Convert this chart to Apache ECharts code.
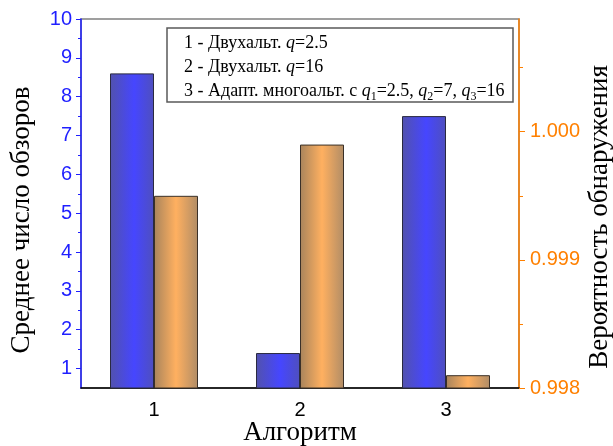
<!DOCTYPE html>
<html>
<head>
<meta charset="utf-8">
<script src="https://cdn.jsdelivr.net/npm/echarts@6/dist/echarts.min.js"></script>
<style>
  html, body { margin: 0; padding: 0; background: #fff; }
  #chart { width: 613px; height: 446px; }
</style>
</head>
<body>
<div id="chart"></div>
<script>
// данные
const categories = ['1', '2', '3'];
const avgScans = [8.6, 1.4, 7.5];            // Среднее число обзоров
const detectProb = [0.9995, 0.9999, 0.9981]; // Вероятность обнаружения
const leftTicks = [1, 2, 3, 4, 5, 6, 7, 8, 9, 10];
const leftMinor = [1.5, 2.5, 3.5, 4.5, 5.5, 6.5, 7.5, 8.5, 9.5];
const rightTicks = [0.998, 0.999, 1.000];
const rightMinor = [0.9985, 0.9995, 1.0005];

const BLUE = '#1f1fff';
const ORANGE = '#ff8000';
const SANS = 'Liberation Sans';
const SERIF = 'Liberation Serif';

const chart = echarts.init(document.getElementById('chart'));

const blueGrad = new echarts.graphic.LinearGradient(0, 0, 1, 0, [
    { offset: 0, color: '#5252ad' },
    { offset: 0.55, color: '#4646ff' },
    { offset: 1, color: '#4f4fbe' }
]);
const orangeGrad = new echarts.graphic.LinearGradient(0, 0, 1, 0, [
    { offset: 0, color: '#a8845c' },
    { offset: 0.5, color: '#ffb060' },
    { offset: 1, color: '#b08c66' }
]);

chart.setOption({
    animation: false,
    grid: {
        left: 81, right: 94, top: 19, bottom: 58,
        show: true,
        borderColor: '#808080',
        borderWidth: 1.5
    },
    xAxis: [
        {
            type: 'category',
            data: categories,
            position: 'bottom',
            axisLine: { lineStyle: { color: '#000', width: 1.5 } },
            axisTick: { alignWithLabel: true, length: 5, lineStyle: { color: '#000' } },
            axisLabel: { color: '#000', fontFamily: SANS, fontSize: 20, margin: 12 }
        },
        {
            // малые штрихи между категориями
            type: 'category',
            data: categories,
            position: 'bottom',
            axisLine: { show: false },
            axisTick: { alignWithLabel: false, length: 3, lineStyle: { color: '#000' } },
            axisLabel: { show: false }
        }
    ],
    yAxis: [
        {
            type: 'value',
            position: 'left',
            min: 0.5, max: 10,
            splitLine: { show: false },
            axisLine: { show: true, lineStyle: { color: BLUE, width: 1.5 } },
            axisTick: { show: true, customValues: leftTicks, length: 5, lineStyle: { color: BLUE } },
            axisLabel: { customValues: leftTicks, color: BLUE, fontFamily: SANS, fontSize: 20, margin: 9 }
        },
        {
            type: 'value',
            position: 'right',
            min: 0.998, max: 1.00088,
            splitLine: { show: false },
            axisLine: { show: true, lineStyle: { color: ORANGE, width: 1.5 } },
            axisTick: { show: true, customValues: rightTicks, length: 6, lineStyle: { color: ORANGE } },
            axisLabel: {
                customValues: rightTicks, color: ORANGE, fontFamily: SANS, fontSize: 20, margin: 11,
                formatter: v => v.toFixed(3)
            }
        },
        {
            type: 'value',
            position: 'left',
            min: 0.5, max: 10,
            splitLine: { show: false },
            axisLine: { show: false },
            axisTick: { show: true, customValues: leftMinor, length: 3, lineStyle: { color: BLUE } },
            axisLabel: { show: false }
        },
        {
            type: 'value',
            position: 'right',
            min: 0.998, max: 1.00088,
            splitLine: { show: false },
            axisLine: { show: false },
            axisTick: { show: true, customValues: rightMinor, length: 4, lineStyle: { color: ORANGE } },
            axisLabel: { show: false }
        }
    ],
    series: [
        {
            name: 'Среднее число обзоров',
            type: 'bar',
            xAxisIndex: 0,
            yAxisIndex: 0,
            barWidth: 44,
            barGap: '0%',
            itemStyle: { color: blueGrad, borderColor: '#2a2a40', borderWidth: 1 },
            data: avgScans
        },
        {
            name: 'Вероятность обнаружения',
            type: 'bar',
            xAxisIndex: 0,
            yAxisIndex: 1,
            barWidth: 44,
            barGap: '0%',
            itemStyle: { color: orangeGrad, borderColor: '#3a3028', borderWidth: 1 },
            data: detectProb
        }
    ],
    graphic: [
        {
            type: 'text', x: 22, y: 220, rotation: Math.PI / 2,
            style: { text: 'Среднее число обзоров', font: '27px "Liberation Serif"', fill: '#000', align: 'center', verticalAlign: 'middle' }
        },
        {
            type: 'text', x: 600, y: 217, rotation: Math.PI / 2,
            style: { text: 'Вероятность обнаружения', font: '27px "Liberation Serif"', fill: '#000', align: 'center', verticalAlign: 'middle' }
        },
        {
            type: 'text', x: 300, y: 433,
            style: { text: 'Алгоритм', font: '27px "Liberation Serif"', fill: '#000', align: 'center', verticalAlign: 'middle' }
        },
        {
            type: 'rect', z: 100,
            shape: { x: 167, y: 28, width: 346, height: 74 },
            style: { fill: '#fff', stroke: '#5a5a5a', lineWidth: 1.5 }
        },
        {
            type: 'text', z: 101, x: 184, y: 31,
            style: {
                text: '{n|1 - Двухальт. }{i|q}{n|=2.5}\n' +
                      '{n|2 - Двухальт. }{i|q}{n|=16}\n' +
                      '{n|3 - Адапт. многоальт. с }{i|q}{s|1}{n|=2.5, }{i|q}{s|2}{n|=7, }{i|q}{s|3}{n|=16}',
                rich: {
                    n: { fontFamily: SERIF, fontSize: 18, lineHeight: 24, fill: '#000' },
                    i: { fontFamily: SERIF, fontSize: 18, fontStyle: 'italic', lineHeight: 24, fill: '#000' },
                    s: { fontFamily: SERIF, fontSize: 12, lineHeight: 12, verticalAlign: 'bottom', fill: '#000' }
                }
            }
        }
    ]
});
window.addEventListener('resize', () => {
    chart.resize();
});
</script>
</body>
</html>
